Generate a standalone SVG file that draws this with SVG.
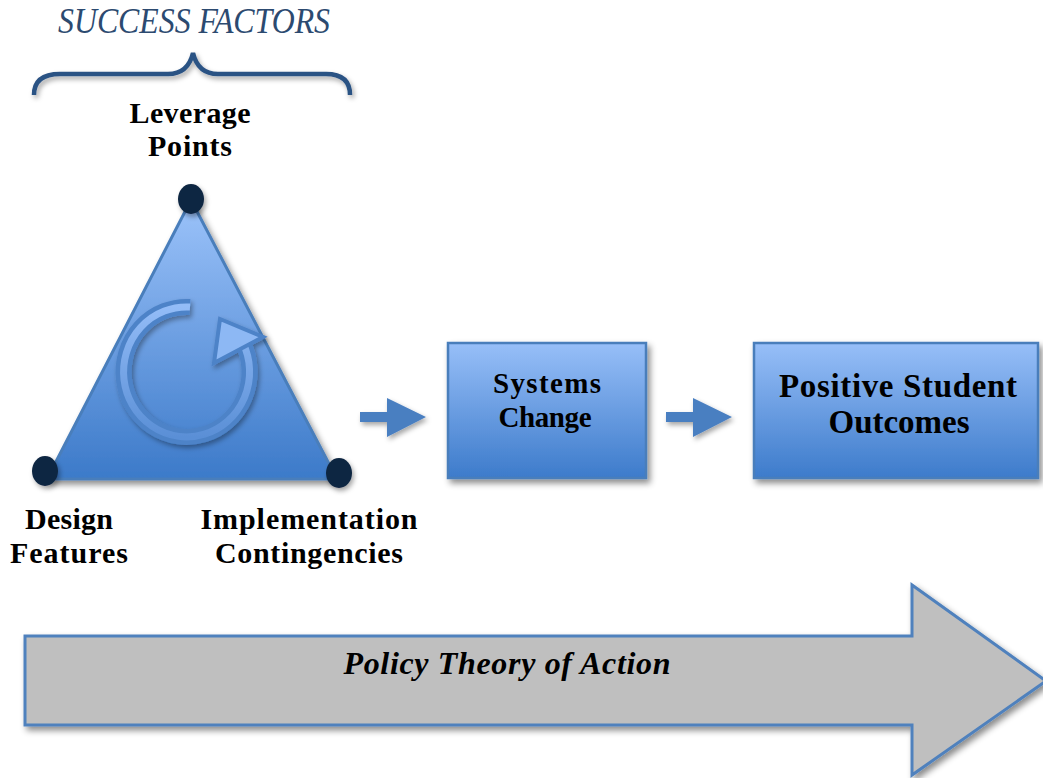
<svg xmlns="http://www.w3.org/2000/svg" width="1043" height="778" viewBox="0 0 1043 778">
<defs>
<style>
.lbl{font-family:"Liberation Serif","Times New Roman",serif;font-weight:bold;fill:#000;text-anchor:middle}
.box{fill:url(#boxg);stroke:#4a7ebb;stroke-width:2.5}
.dot{fill:#112642}
.sarrow{fill:#4a7fc1}
</style>
<linearGradient id="boxg" x1="0" y1="0" x2="0" y2="1">
<stop offset="0" stop-color="#97bff8"/>
<stop offset="1" stop-color="#3d7bcb"/>
</linearGradient>
<linearGradient id="trig" x1="0" y1="0" x2="0" y2="1">
<stop offset="0" stop-color="#9cc3fa"/>
<stop offset="1" stop-color="#3c7ac9"/>
</linearGradient>
<linearGradient id="ring" x1="0" y1="0" x2="0" y2="1">
<stop offset="0" stop-color="#93bcf7"/>
<stop offset="1" stop-color="#5a8fd6"/>
</linearGradient>
<filter id="sh" x="-10%" y="-10%" width="130%" height="130%">
<feDropShadow dx="3" dy="4" stdDeviation="3" flood-color="#000" flood-opacity="0.45"/>
</filter>
<filter id="sh2" x="-20%" y="-20%" width="150%" height="150%">
<feDropShadow dx="2" dy="3" stdDeviation="2.5" flood-color="#000" flood-opacity="0.35"/>
</filter>
</defs>

<g id="title">
<text x="194" y="33" font-family="'Liberation Serif','Times New Roman',serif" font-style="italic" font-size="35" fill="#2c4a70" text-anchor="middle" textLength="272" lengthAdjust="spacingAndGlyphs">SUCCESS FACTORS</text>
<path d="M34 95 Q34 74 60 74 L168 74 Q188 74 193 53 Q198 74 218 74 L326 74 Q350 74 350 95" fill="none" stroke="#2c5384" stroke-width="4.5" filter="url(#sh2)"/>
</g>

<g id="triangle">
<polygon points="191,200 47,479 337,479" fill="url(#trig)" stroke="#4a7ebb" stroke-width="3" filter="url(#sh)"/>
<g filter="url(#sh2)">
<path d="M190 307 A63 65 0 1 0 243 343" fill="none" stroke="#4d83c8" stroke-width="16"/>
<path d="M190 307 A63 65 0 1 0 243 343" fill="none" stroke="url(#ring)" stroke-width="7"/>
<polygon points="220,319 263,337 214,363" fill="#8db8f4" stroke="#4d83c8" stroke-width="4" stroke-linejoin="miter"/>
</g>
<ellipse class="dot" cx="191" cy="199" rx="13" ry="15" filter="url(#sh2)"/>
<ellipse class="dot" cx="45" cy="471" rx="13" ry="15" filter="url(#sh2)"/>
<ellipse class="dot" cx="339" cy="473" rx="13" ry="15" filter="url(#sh2)"/>
</g>

<g id="leverage">
<text class="lbl" x="190" y="123" font-size="30" textLength="121">Leverage</text>
<text class="lbl" x="190" y="156" font-size="30" textLength="84">Points</text>
</g>
<g id="design">
<text class="lbl" x="69" y="529" font-size="30" textLength="88">Design</text>
<text class="lbl" x="69" y="563" font-size="30" textLength="118">Features</text>
</g>
<g id="implementation">
<text class="lbl" x="309" y="529" font-size="30" textLength="217">Implementation</text>
<text class="lbl" x="309" y="563" font-size="30" textLength="188">Contingencies</text>
</g>

<g id="systems-change">
<rect class="box" x="448" y="343" width="198" height="135" filter="url(#sh)"/>
<text class="lbl" x="547" y="393" font-size="29" textLength="108">Systems</text>
<text class="lbl" x="545" y="427" font-size="29" textLength="93">Change</text>
</g>

<g id="positive-student-outcomes">
<rect class="box" x="754" y="343" width="284" height="135" filter="url(#sh)"/>
<text class="lbl" x="898" y="397" font-size="33" textLength="238">Positive Student</text>
<text class="lbl" x="899" y="433" font-size="33" textLength="141">Outcomes</text>
</g>

<g id="connectors">
<polygon class="sarrow" points="360,412 387,412 387,398 426,417 387,437 387,422 360,422" filter="url(#sh2)"/>
<polygon class="sarrow" points="666,412 693,412 693,398 732,417 693,437 693,422 666,422" filter="url(#sh2)"/>
</g>

<g id="policy-arrow">
<polygon points="25,636 912,636 912,585 1046,681 912,775 912,725 25,725" fill="#bfbfbf" stroke="#4f81bd" stroke-width="3" filter="url(#sh)"/>
<text x="507" y="674" font-family="'Liberation Serif','Times New Roman',serif" font-weight="bold" font-style="italic" font-size="32" fill="#000" text-anchor="middle" textLength="327">Policy Theory of Action</text>
</g>
</svg>
